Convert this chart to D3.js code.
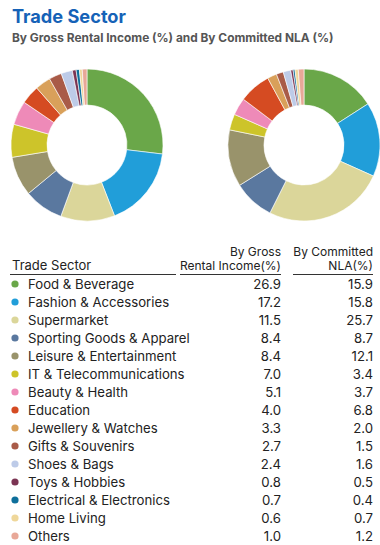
<!DOCTYPE html>
<html><head><meta charset="utf-8">
<script src="https://cdn.jsdelivr.net/npm/d3@7"></script>
<style>
html,body{margin:0;padding:0;background:#fff;}
svg{display:block;font-family:Inter,"Noto Sans",sans-serif;}
</style></head>
<body>
<script>
const categories = ["Food & Beverage","Fashion & Accessories","Supermarket","Sporting Goods & Apparel","Leisure & Entertainment","IT & Telecommunications","Beauty & Health","Education","Jewellery & Watches","Gifts & Souvenirs","Shoes & Bags","Toys & Hobbies","Electrical & Electronics","Home Living","Others"];
const grossRentalIncome = [26.9,17.2,11.5,8.4,8.4,7.0,5.1,4.0,3.3,2.7,2.4,0.8,0.7,0.6,1.0];
const committedNLA = [15.9,15.8,25.7,8.7,12.1,3.4,3.7,6.8,2.0,1.5,1.6,0.5,0.4,0.7,1.2];
const colors = ["#6aa749","#219ed9","#dbd69a","#5a789f","#99936b","#cdc42a","#ee8ab8","#d54b22","#d9a05a","#a95b48","#bdcbe8","#7b3453","#0e6f9b","#efd79a","#e8a898"];
const headers = ["Trade Sector","By Gross|Rental Income(%)","By Committed|NLA(%)"];

const W=380,H=545;
const svg=d3.select("body").append("svg").attr("width",W).attr("height",H);

svg.append("text").attr("x",12).attr("y",23).attr("fill","#1562b7")
  .attr("font-size",18.2).attr("font-weight",700).text("Trade Sector");
svg.append("text").attr("x",12).attr("y",42).attr("fill","#555")
  .attr("font-size",11.9).attr("font-weight",700).text("By Gross Rental Income (%) and By Committed NLA (%)");

const color=d3.scaleOrdinal().domain(categories).range(colors);
const pie=d3.pie().sort(null).value(d=>d.v);
const arc=d3.arc().innerRadius(40).outerRadius(76);

function donut(values,cx,cy){
  const data=categories.map((c,i)=>({c,v:values[i]}));
  svg.append("g").attr("transform",`translate(${cx},${cy})`)
    .selectAll("path").data(pie(data)).join("path")
    .attr("d",arc).attr("fill",d=>color(d.data.c))
    .attr("stroke","#fff").attr("stroke-width",0.6);
}
donut(grossRentalIncome,87,145);
donut(committedNLA,304,145);

// table
const c1=281,c2=373;
const tg=svg.append("g").attr("fill","#222");
tg.append("text").attr("x",12).attr("y",270).attr("font-size",13).attr("fill","#222").text(headers[0]);
[[headers[1],c1],[headers[2],c2]].forEach(([h,x])=>{
  const parts=h.split("|");
  tg.append("text").attr("x",x).attr("y",256).attr("font-size",12).attr("text-anchor","end").attr("fill","#222").text(parts[0]);
  tg.append("text").attr("x",x).attr("y",270).attr("font-size",12).attr("text-anchor","end").attr("fill","#222").text(parts[1]);
});
[[10,176],[180,281],[293,373]].forEach(([a,b])=>{
  tg.append("line").attr("x1",a).attr("x2",b).attr("y1",274.5).attr("y2",274.5)
    .attr("stroke","#333").attr("stroke-width",1);
});
const y=d3.scaleBand().domain(categories).range([275,545]);
categories.forEach((c,i)=>{
  const yy=y(c)+y.bandwidth()/2;
  tg.append("circle").attr("cx",15).attr("cy",yy).attr("r",3.6).attr("fill",color(c));
  tg.append("text").attr("x",28).attr("y",yy+4.6).attr("font-size",13.2).attr("fill","#222").text(c);
  tg.append("text").attr("x",c1).attr("y",yy+4.6).attr("font-size",13.2).attr("text-anchor","end").attr("fill","#222").text(grossRentalIncome[i].toFixed(1));
  tg.append("text").attr("x",c2).attr("y",yy+4.6).attr("font-size",13.2).attr("text-anchor","end").attr("fill","#222").text(committedNLA[i].toFixed(1));
});
</script>
</body></html>
